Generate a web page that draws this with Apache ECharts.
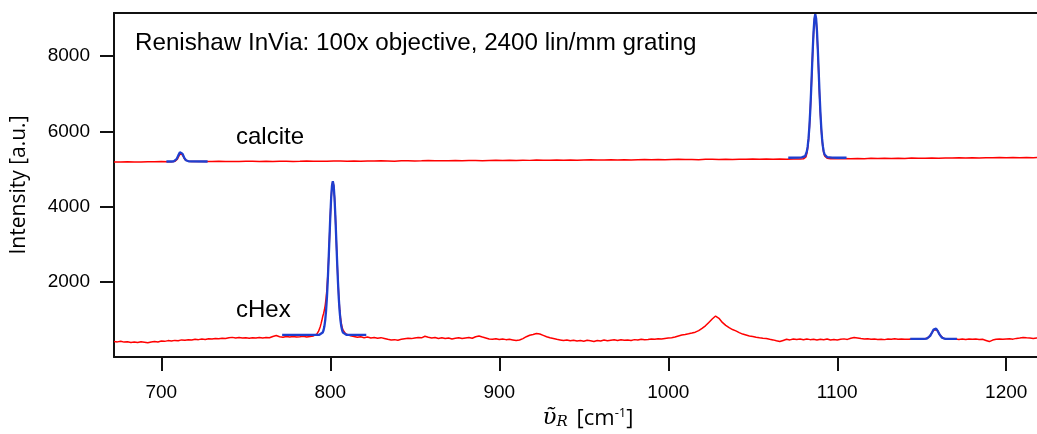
<!DOCTYPE html>
<html>
<head>
<meta charset="utf-8">
<style>
  html, body { margin: 0; padding: 0; background: #fff; }
  #chart { width: 1037px; height: 434px; }
</style>
<script src="https://cdn.jsdelivr.net/npm/echarts@6/dist/echarts.min.js"></script>
</head>
<body>
<div id="chart"></div>
<script>
// Raman shift axis ticks [cm-1] and intensity ticks [a.u.]
const shiftTicks = [700, 800, 900, 1000, 1100, 1200];
const intensityTicks = [2000, 4000, 6000, 8000];

// Measured spectrum of calcite: [Raman shift, intensity]
const calciteSpectrum = [
  [672,5190],[676,5185],[680,5193],[684,5190],[688,5186],[692,5194],[696,5191],[700,5197],[704,5193],[706,5196],
  [708,5205],[709,5228],[709.5,5262],[710,5300],[710.5,5352],[711,5400],[711.5,5430],[712,5420],[712.5,5385],[713,5335],
  [713.5,5290],[714,5252],[715,5222],[716,5206],[718,5198],[722,5203],[726,5197],[730,5200],[734,5206],[738,5199],
  [742,5203],[746,5197],[750,5204],[754,5208],[758,5201],[762,5205],[766,5199],[770,5206],[774,5210],[778,5203],
  [782,5207],[786,5212],[790,5204],[794,5209],[798,5206],[802,5211],[806,5215],[810,5208],[814,5213],[818,5210],
  [822,5216],[826,5211],[830,5219],[834,5214],[838,5209],[842,5217],[846,5222],[850,5215],[854,5220],[858,5226],
  [862,5218],[866,5223],[870,5219],[874,5227],[878,5222],[882,5229],[886,5224],[890,5219],[894,5228],[898,5233],
  [902,5226],[906,5231],[910,5225],[914,5234],[918,5230],[922,5237],[926,5231],[930,5236],[934,5242],[938,5234],
  [942,5239],[946,5233],[950,5241],[954,5245],[958,5238],[962,5243],[966,5249],[970,5241],[974,5246],[978,5240],
  [982,5248],[986,5253],[990,5246],[994,5250],[998,5245],[1002,5253],[1006,5257],[1010,5250],[1014,5255],[1018,5249],
  [1022,5257],[1026,5262],[1030,5254],[1034,5259],[1038,5253],[1042,5261],[1046,5257],[1050,5264],[1054,5259],[1058,5266],
  [1062,5260],[1066,5265],[1070,5262],[1074,5269],[1078,5264],[1080,5272],[1081,5290],[1081.5,5325],[1082,5410],[1082.5,5550],
  [1083,5770],[1083.5,6090],[1084,6510],[1084.5,7010],[1085,7590],[1085.5,8140],[1086,8630],[1086.5,8970],[1087,9080],[1087.5,8960],
  [1088,8620],[1088.5,8120],[1089,7560],[1089.5,6980],[1090,6480],[1090.5,6080],[1091,5780],[1091.5,5560],[1092,5430],[1092.5,5350],
  [1093,5305],[1094,5285],[1096,5276],[1100,5271],[1104,5278],[1108,5273],[1112,5281],[1116,5276],[1120,5284],[1124,5279],
  [1128,5286],[1132,5280],[1136,5288],[1140,5283],[1144,5291],[1148,5285],[1152,5289],[1156,5294],[1160,5287],[1164,5295],
  [1168,5290],[1172,5298],[1176,5292],[1180,5300],[1184,5295],[1188,5302],[1192,5297],[1196,5304],[1200,5299],[1204,5306],
  [1208,5301],[1212,5309],[1216,5303],[1220,5310],[1224,5305],[1228,5311]
];

// Measured spectrum of cyclohexane: [Raman shift, intensity]
const chexSpectrum = [
  [672,415],[674,402],[676,420],[678,396],[680,408],[682,388],[684,400],[686,384],[688,406],[690,394],
  [692,380],[694,398],[696,412],[698,400],[700,424],[702,416],[704,436],[706,424],[708,442],[710,430],
  [712,455],[714,446],[716,460],[718,450],[720,470],[722,462],[724,476],[726,466],[728,485],[730,476],
  [732,492],[734,484],[736,500],[738,492],[740,510],[742,522],[744,506],[746,516],[748,504],[750,512],
  [752,498],[754,510],[756,504],[758,518],[760,508],[762,520],[764,512],[766,546],[768,570],[770,540],
  [772,528],[774,548],[776,534],[778,546],[780,530],[782,540],[784,553],[786,534],[788,548],[790,560],
  [791,572],[792,610],[793,680],[794,800],[794.5,880],[795,970],[795.5,1075],[796,1150],[796.5,1250],[797,1380],
  [797.5,1560],[798,1800],[798.5,2150],[799,2600],[799.5,3150],[800,3720],[800.5,4220],[801,4560],[801.5,4680],[802,4560],
  [802.5,4230],[803,3740],[803.5,3160],[804,2580],[804.5,2050],[805,1620],[805.5,1290],[806,1060],[806.5,900],[807,790],
  [807.5,720],[808,670],[809,620],[810,590],[812,562],[814,546],[816,526],[818,540],[820,514],[822,530],
  [824,505],[826,520],[828,500],[830,515],[832,494],[834,470],[836,455],[838,462],[840,447],[842,470],
  [844,486],[846,500],[848,489],[850,506],[852,520],[854,510],[856,552],[858,526],[860,505],[862,516],
  [864,494],[866,510],[868,490],[870,505],[872,480],[874,498],[876,511],[878,490],[880,506],[882,521],
  [884,500],[886,540],[888,560],[890,530],[892,506],[894,480],[896,470],[898,486],[900,465],[902,478],
  [904,462],[906,470],[908,455],[910,440],[912,452],[914,490],[916,540],[918,580],[920,600],[922,626],
  [924,610],[926,575],[928,540],[930,510],[932,490],[934,470],[936,455],[938,440],[940,451],[942,430],
  [944,446],[946,425],[948,440],[950,420],[952,445],[954,430],[956,410],[958,440],[960,425],[962,450],
  [964,434],[966,446],[968,456],[970,440],[972,460],[974,444],[976,455],[978,440],[980,462],[982,450],
  [984,470],[986,458],[988,465],[990,480],[992,470],[994,486],[996,478],[998,494],[1000,505],[1002,515],
  [1004,530],[1006,560],[1008,585],[1010,600],[1012,616],[1014,636],[1016,660],[1018,700],[1020,760],[1022,830],
  [1024,920],[1026,1010],[1028,1090],[1030,1030],[1032,920],[1034,840],[1036,780],[1038,730],[1040,695],[1042,650],
  [1044,610],[1046,585],[1048,560],[1050,545],[1052,528],[1054,512],[1056,500],[1058,492],[1060,470],[1062,455],
  [1064,432],[1066,410],[1068,440],[1070,470],[1072,455],[1074,480],[1076,468],[1078,476],[1080,460],[1082,478],
  [1084,462],[1086,470],[1088,455],[1090,472],[1092,460],[1094,478],[1096,450],[1098,465],[1100,455],[1102,470],
  [1104,482],[1106,468],[1108,500],[1110,520],[1112,505],[1114,490],[1116,478],[1118,485],[1120,470],[1122,480],
  [1124,468],[1126,475],[1128,462],[1130,478],[1132,470],[1134,485],[1136,472],[1138,480],[1140,470],[1142,475],
  [1144,480],[1146,472],[1148,478],[1150,475],[1152,485],[1153,495],[1154,518],[1155,560],[1156,640],[1157,715],
  [1158,750],[1159,725],[1160,650],[1161,570],[1162,520],[1163,495],[1164,485],[1166,478],[1168,472],[1170,476],
  [1172,468],[1174,478],[1176,465],[1178,480],[1180,470],[1182,476],[1184,465],[1186,470],[1188,440],[1190,410],
  [1192,450],[1194,470],[1196,480],[1198,470],[1200,478],[1202,485],[1204,475],[1206,495],[1208,505],[1210,520],
  [1212,510],[1214,505],[1216,495],[1218,505],[1220,500],[1222,510],[1224,498],[1226,505],[1228,500]
];

// Peak fits over limited windows: [Raman shift, intensity]
const calciteFit712 = [
  [703,5200],[706,5200],[706.5,5201],[707.5,5207],[708,5216],[708.5,5234],[709,5263],[709.5,5305],[710,5356],[710.5,5408],
  [711,5446],[711.5,5460],[712,5446],[712.5,5408],[713,5356],[713.5,5305],[714,5263],[714.5,5234],[715,5216],[715.5,5207],
  [716.5,5201],[717,5200],[727.4,5200]
];
const calciteFit1087 = [
  [1071,5300],[1077,5302],[1079,5308],[1080,5318],[1081,5342],[1081.5,5386],[1082,5466],[1082.5,5601],[1083,5813],[1083.5,6121],
  [1084,6534],[1084.5,7043],[1085,7612],[1085.5,8180],[1086,8669],[1086.5,9002],[1087,9120],[1087.5,9002],[1088,8669],[1088.5,8180],
  [1089,7612],[1089.5,7043],[1090,6534],[1090.5,6121],[1091,5813],[1091.5,5601],[1092,5466],[1092.5,5386],[1093,5342],[1094,5318],
  [1095,5308],[1097,5302],[1100,5300],[1105.5,5300]
];
const chexFit802 = [
  [771.5,587],[790,587],[793.5,590],[794.5,601],[795.5,651],[796,711],[796.5,815],[797,982],[797.5,1231],[798,1580],
  [798.5,2033],[799,2573],[799.5,3163],[800,3739],[800.5,4230],[801,4558],[801.5,4675],[802,4558],[802.5,4230],[803,3739],
  [803.5,3163],[804,2573],[804.5,2033],[805,1580],[805.5,1231],[806,982],[806.5,815],[807,711],[807.5,651],[808.5,601],
  [809.5,590],[811,587],[821.3,587]
];
const chexFit1158 = [
  [1143.2,480],[1151,481],[1152,482],[1153,489],[1154,512],[1155,563],[1155.5,601],[1156,645],[1156.5,689],[1157,728],
  [1157.5,755],[1158,765],[1158.5,755],[1159,728],[1159.5,689],[1160,645],[1160.5,601],[1161,563],[1162,512],[1163,489],
  [1164,482],[1165,480],[1170.8,480]
];

const RED = '#ff0000';
const BLUE = '#1f3fcf';
const INK = '#111111';
const SANS = '"Liberation Sans", Arial, sans-serif';
const UI = '"Open Sans", "Noto Sans", sans-serif';

function spectrum(name, data) {
  return {
    name, type: 'line', data, showSymbol: false, symbol: 'none',
    lineStyle: { color: RED, width: 1.5 }, silent: true, z: 2
  };
}
function fit(name, data) {
  return {
    name, type: 'line', data, showSymbol: false, symbol: 'none',
    lineStyle: { color: BLUE, width: 2.3 }, silent: true, z: 3
  };
}
const plain = v => String(v);

const chart = echarts.init(document.getElementById('chart'), null, { renderer: 'canvas' });

chart.setOption({
  animation: false,
  backgroundColor: '#ffffff',
  textStyle: { fontFamily: SANS, color: '#000' },
  grid: { left: 114, right: -25, top: 13, bottom: 77, containLabel: false, outerBoundsMode: 'none' },
  xAxis: [
    {
      type: 'value', min: 672, max: 1233, position: 'bottom',
      axisLine: { show: true, onZero: false, lineStyle: { color: INK, width: 2 } },
      axisTick: { show: true, customValues: shiftTicks, length: 14, inside: false, lineStyle: { color: INK, width: 2 } },
      axisLabel: { show: true, customValues: shiftTicks, formatter: plain, margin: 26, fontSize: 19, color: '#000', fontFamily: SANS },
      splitLine: { show: false },
      name: '{u|ῦ}{r|R} [cm{s|-1}]',
      nameLocation: 'middle', nameGap: 46,
      nameTextStyle: {
        fontFamily: UI, fontSize: 22, color: '#000',
        rich: {
          u: { fontFamily: '"DejaVu Serif", serif', fontStyle: 'italic', fontSize: 23, color: '#000' },
          r: { fontFamily: '"DejaVu Serif", serif', fontStyle: 'italic', fontSize: 15, color: '#000', verticalAlign: 'bottom', padding: [8, 3, 0, 0] },
          s: { fontFamily: UI, fontSize: 13, color: '#000', verticalAlign: 'top', padding: [0, 0, 8, 0] }
        }
      }
    },
    {
      type: 'value', min: 672, max: 1233, position: 'top',
      axisLine: { show: true, onZero: false, lineStyle: { color: INK, width: 2 } },
      axisTick: { show: false }, axisLabel: { show: false }, splitLine: { show: false }
    }
  ],
  yAxis: {
    type: 'value', min: 0, max: 9150,
    axisLine: { show: true, onZero: false, lineStyle: { color: INK, width: 2 } },
    axisTick: { show: true, customValues: intensityTicks, length: 14, inside: false, lineStyle: { color: INK, width: 2 } },
    axisLabel: { show: true, customValues: intensityTicks, formatter: plain, margin: 24, fontSize: 19, color: '#000', fontFamily: SANS },
    splitLine: { show: false },
    name: 'Intensity [a.u.]',
    nameLocation: 'middle', nameGap: 84,
    nameTextStyle: { fontFamily: UI, fontSize: 21, color: '#000' }
  },
  series: [
    spectrum('calcite', calciteSpectrum),
    spectrum('cHex', chexSpectrum),
    fit('calcite fit 712', calciteFit712),
    fit('calcite fit 1087', calciteFit1087),
    fit('cHex fit 802', chexFit802),
    fit('cHex fit 1158', chexFit1158)
  ],
  graphic: [
    { type: 'text', left: 135, top: 31, silent: true,
      style: { text: 'Renishaw InVia: 100x objective, 2400 lin/mm grating', font: '24.2px ' + SANS, fill: '#000' } },
    { type: 'text', left: 236, top: 125, silent: true,
      style: { text: 'calcite', font: '24px ' + SANS, fill: '#000' } },
    { type: 'text', left: 236, top: 298, silent: true,
      style: { text: 'cHex', font: '24px ' + SANS, fill: '#000' } }
  ]
});
</script>
</body>
</html>
